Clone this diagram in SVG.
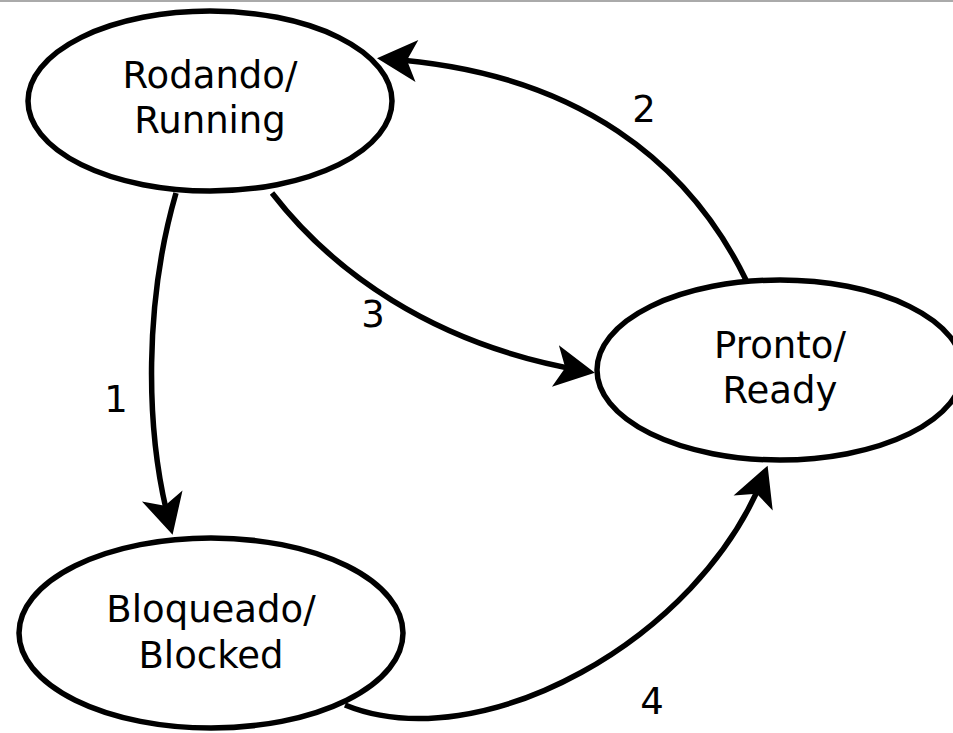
<svg xmlns="http://www.w3.org/2000/svg" width="953" height="733" viewBox="0 0 953 733">
<style>
.node ellipse{fill:#fff;stroke:#000;stroke-width:5.5}
.node text,.lbl{font-family:"DejaVu Sans",sans-serif;font-size:37px;fill:#000;text-anchor:middle}
.edge{fill:none;stroke:#000;stroke-width:5.5;marker-end:url(#arr)}
</style>
<defs>
<marker id="arr" markerUnits="userSpaceOnUse" orient="auto" markerWidth="60" markerHeight="60" viewBox="-40 -30 60 60" refX="0" refY="0" overflow="visible">
<path d="M 10 0 L -30 -21 L -20 0 L -30 21 Z" fill="#000"/>
</marker>
</defs>
<rect x="0" y="0" width="953" height="2" fill="#aaaaaa"/>
<g id="connectors">
<path class="edge" d="M 176 193 C 145 300, 144 428, 170 525"/>
<path class="edge" d="M 746 280 C 690 165, 580 72, 387 59"/>
<path class="edge" d="M 272 193 C 330 268, 430 345, 585 371"/>
<path class="edge" d="M 345 705 C 480 760, 700 640, 764 475"/>
<text class="lbl" x="116" y="412">1</text>
<text class="lbl" x="644" y="122">2</text>
<text class="lbl" x="373" y="327">3</text>
<text class="lbl" x="652" y="714">4</text>
</g>
<g id="running" class="node">
<ellipse cx="210" cy="101" rx="182" ry="90"/>
<text x="210" y="88">Rodando/</text>
<text x="210" y="133">Running</text>
</g>
<g id="ready" class="node">
<ellipse cx="780" cy="370" rx="183" ry="90"/>
<text x="780" y="358">Pronto/</text>
<text x="780" y="403">Ready</text>
</g>
<g id="blocked" class="node">
<ellipse cx="211" cy="633" rx="192" ry="95"/>
<text x="211" y="622">Bloqueado/</text>
<text x="211" y="668">Blocked</text>
</g>
</svg>
